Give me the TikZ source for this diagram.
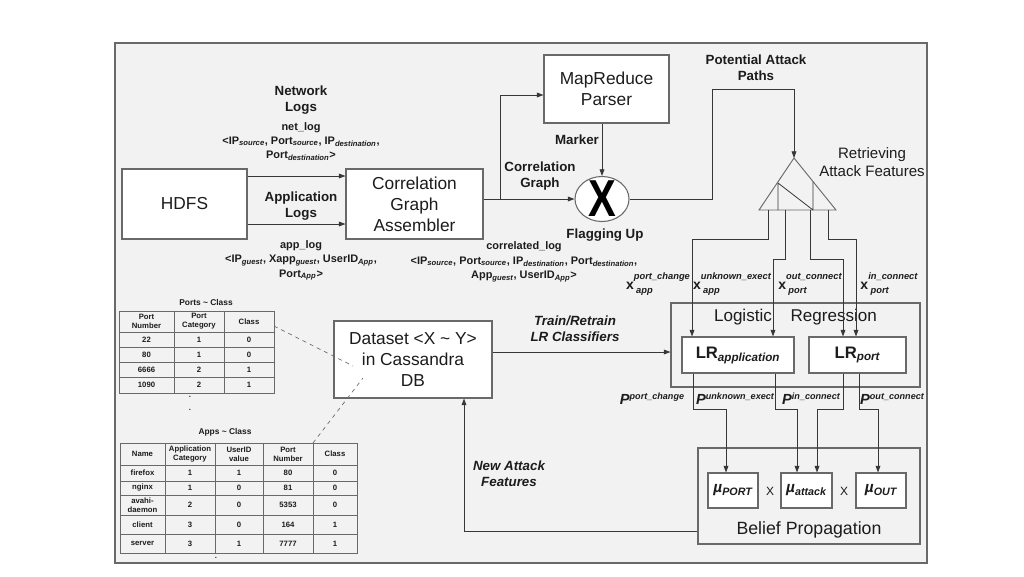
\documentclass[tikz,border=0pt]{standalone}
\usepackage{amsmath}
\usepackage{fontspec}
\setmainfont{Liberation Sans}
\usetikzlibrary{positioning,arrows.meta,shapes.geometric,calc}
\definecolor{framegray}{RGB}{242,242,242}
\definecolor{edge}{RGB}{105,105,105}
\definecolor{linecol}{RGB}{55,55,55}
\definecolor{ink}{RGB}{28,28,28}
\newdimen\pxu \pxu=0.75pt
\newcommand{\lsb}[1]{\textsubscript{\itshape #1}}
\newcommand{\xft}[2]{{\fontsize{10.5}{10.5}\selectfont\bfseries x}\raisebox{-3pt}{\fontsize{7}{8}\selectfont\bfseries\itshape\begin{tabular}[b]{@{}l@{}}#1\\[2.3pt]\hspace{0.25em}#2\end{tabular}}}
\newcommand{\pft}[1]{{\fontsize{11}{11}\selectfont\bfseries\itshape P}\raisebox{0.85ex}{\fontsize{6.8}{7}\selectfont\bfseries\itshape #1}}

\begin{document}
\begin{tikzpicture}[x=0.75pt, y=-0.75pt,
  box/.style={draw=edge, fill=white, line width=0.8pt, align=center, inner sep=0pt, text=ink, font=\fontsize{13}{15.7}\selectfont},
  grp/.style={draw=edge, line width=0.8pt, inner sep=0pt},
  lbl/.style={align=center, text=ink, font=\fontsize{10}{12}\selectfont\bfseries},
  fld/.style={align=center, text=ink, font=\fontsize{8.2}{10.8}\selectfont\bfseries},
  note/.style={align=center, text=ink, font=\fontsize{10}{12}\selectfont\bfseries\itshape},
  arr/.style={draw=linecol, line width=0.6pt, -{Triangle[length=5pt,width=3.6pt]}},
  wire/.style={draw=linecol, line width=0.6pt},
  cell/.style={inner sep=0pt, align=center, text=ink, font=\fontsize{5.8}{6.6}\selectfont\bfseries},
  grid/.style={draw=edge, line width=0.5pt},
  link/.style={draw=edge, dashed, line width=0.5pt}
]
  \useasboundingbox (0,0) rectangle (1024,576);
  \fill[white] (0,0) rectangle (1024,576);
  \filldraw[fill=framegray, draw=edge, line width=0.8pt] (115,43) rectangle (927,563);

  % main boxes
  \node[box, minimum width=125\pxu, minimum height=70\pxu] (hdfs) at (184.5,204) {HDFS};
  \node[box, minimum width=137\pxu, minimum height=70\pxu] (cga) at (414.5,204) {Correlation\\Graph\\Assembler};
  \node[box, minimum width=125\pxu, minimum height=68\pxu] (mrp) at (606.5,89) {MapReduce\\Parser};
  \node[draw=edge, fill=white, line width=0.8pt, ellipse, inner sep=0pt,
        minimum width=54\pxu, minimum height=45\pxu,
        label={[text=black, font=\fontsize{39}{39}\selectfont\bfseries]center:\scalebox{0.8}[1]{X}}] (flag) at (602,199) {};
  \node[box, minimum width=158\pxu, minimum height=77\pxu] (ds) at (413,359.5) {Dataset <X \textasciitilde{} Y>\\in Cassandra\\DB};

  % logistic regression
  \node[grp, minimum width=249\pxu, minimum height=84\pxu] (lr) at (795.5,345) {};
  \node[text=ink, font=\fontsize{12.8}{14}\selectfont] (lrt) at (795.5,317) {Logistic\hspace{1.1em}Regression};
  \node[box, font=\fontsize{12.5}{14}\selectfont\bfseries, minimum width=112\pxu, minimum height=36\pxu] (lra) at (738,355) {LR\textsubscript{\itshape application}};
  \node[box, font=\fontsize{12.5}{14}\selectfont\bfseries, minimum width=97\pxu, minimum height=36\pxu] (lrp) at (857.5,355) {LR\textsubscript{\itshape port}};

  % belief propagation
  \node[grp, minimum width=222\pxu, minimum height=96\pxu] (bp) at (809,496) {};
  \node[text=ink, font=\fontsize{13.3}{15}\selectfont] (bpt) at (809,530) {Belief Propagation};
  \node[box, font=\fontsize{11.5}{13}\selectfont, minimum width=50\pxu, minimum height=35\pxu] (mup) at (733,490.5) {\textbf{\textit{µ}}\textsubscript{\bfseries\itshape PORT}};
  \node[box, font=\fontsize{11.5}{13}\selectfont, minimum width=51\pxu, minimum height=35\pxu] (mua) at (806.5,490.5) {\textbf{\textit{µ}}\textsubscript{\bfseries\itshape attack}};
  \node[box, font=\fontsize{11.5}{13}\selectfont, minimum width=50\pxu, minimum height=35\pxu] (muo) at (881,490.5) {\textbf{\textit{µ}}\textsubscript{\bfseries\itshape OUT}};
  \node[text=ink, font=\fontsize{9}{10}\selectfont] (m1) at (770,491) {X};
  \node[text=ink, font=\fontsize{9}{10}\selectfont] (m2) at (844,491) {X};

  % retrieving triangle
  \coordinate (ta) at (794,158);
  \coordinate (tl) at (759,210);
  \coordinate (tr) at (836,210);
  \draw[grid, line width=0.7pt] (ta) -- (tl) -- (tr) -- cycle;
  \draw[wire] (778,183) -- (778,210) (778,183) -- (813,210) (813,182) -- (813,210);
  \node[text=ink, font=\fontsize{11.3}{13.5}\selectfont, align=center] (raf) at (872,162) {Retrieving\\Attack Features};

  % labels
  \node[lbl] (nl) at (301,100) {Network\\Logs};
  \node[fld] (nlf) at (301,141.5) {net\_log\\<IP\lsb{source}, Port\lsb{source}, IP\lsb{destination},\\Port\lsb{destination}>};
  \node[lbl] (al) at (301,206) {Application\\Logs};
  \node[fld] (alf) at (301,260.5) {app\_log\\<IP\lsb{guest}, Xapp\lsb{guest}, UserID\lsb{App},\\Port\lsb{App}>};
  \node[lbl] (cg) at (540,176) {Correlation\\Graph};
  \node[lbl] (mk) at (577,140) {Marker};
  \node[lbl] (fu) at (605,235) {Flagging Up};
  \node[fld] (clf) at (524,262) {correlated\_log\\<IP\lsb{source}, Port\lsb{source}, IP\lsb{destination}, Port\lsb{destination},\\App\lsb{guest}, UserID\lsb{App}>};
  \node[lbl] (pap) at (756,68) {Potential Attack\\Paths};
  \node[note] (trn) at (575,329) {Train/Retrain\\LR Classifiers};
  \node[note] (naf) at (509,474) {New Attack\\Features};

  \node[fld, inner sep=0pt] (x1) at (658,284) {\xft{port\_change}{app}};
  \node[fld, inner sep=0pt] (x2) at (732,284) {\xft{unknown\_exect}{app}};
  \node[fld, inner sep=0pt] (x3) at (810,284) {\xft{out\_connect}{port}};
  \node[fld, inner sep=0pt] (x4) at (889,284) {\xft{in\_connect}{port}};

  \node[fld, inner sep=0pt] (p1) at (652,399) {\pft{port\_change}};
  \node[fld, inner sep=0pt] (p2) at (735,399) {\pft{unknown\_exect}};
  \node[fld, inner sep=0pt] (p3) at (811,399) {\pft{in\_connect}};
  \node[fld, inner sep=0pt] (p4) at (892,399) {\pft{out\_connect}};

  % connectors
  \draw[arr] ([yshift=28\pxu]hdfs.east) -- ([yshift=28\pxu]cga.west);
  \draw[arr] ([yshift=-20\pxu]hdfs.east) -- ([yshift=-20\pxu]cga.west);
  \draw[arr] (cga.east |- flag.west) -- (flag.west);
  \coordinate (br) at (500,199);
  \draw[arr] (br) |- ([yshift=-6\pxu]mrp.west);
  \draw[arr] (mrp.south -| flag.north) -- (flag.north);
  \draw[arr] (flag.east) -| (712,89) -| (ta);

  \coordinate (b1) at (768,210);
  \coordinate (b2) at (785,210);
  \coordinate (b3) at (810,210);
  \coordinate (b4) at (828,210);
  \draw[arr] (b1) |- (692,239) -- (692,0 |- lra.north);
  \draw[arr] (b2) |- (773,259) -- (773,0 |- lra.north);
  \draw[arr] (b3) |- (843,259) -- (843,0 |- lrp.north);
  \draw[arr] (b4) |- (856,239) -- (856,0 |- lrp.north);

  \draw[arr] (ds.east |- 0,352) -- (lr.west |- 0,352);

  \draw[arr] (693,0 |- lra.south) |- (726,409) -- (726,0 |- mup.north);
  \draw[arr] (775,0 |- lra.south) |- (797,409) -- (797,0 |- mua.north);
  \draw[arr] (843,0 |- lrp.south) |- (817,409) -- (817,0 |- mua.north);
  \draw[arr] (859,0 |- lrp.south) |- (878,409) -- (878,0 |- muo.north);

  \draw[arr] (bp.west |- 0,531) -| (464,0 |- ds.south);

  % ports table
  \node[cell, font=\fontsize{6.3}{7}\selectfont\bfseries] (ptt) at (206,302) {Ports \textasciitilde{} Class};
  \draw[grid] (119,311) rectangle (274,393);
  \foreach \x in {174,224} \draw[grid] (\x,311) -- (\x,393);
  \foreach \y in {332,347,362,377} \draw[grid] (119,\y) -- (274,\y);
  \node[cell] (pt-0-1) at (146.5,321.5) {Port\\Number};
  \node[cell] (pt-0-2) at (199,321.5) {Port\\Category};
  \node[cell] (pt-0-3) at (249,321.5) {Class};
  \foreach \a/\b/\c [count=\r] in {22/1/0, 80/1/0, 6666/2/1, 1090/2/1} {
    \node[cell] (pt-\r-1) at (146.5,324.5+15*\r) {\a};
    \node[cell] (pt-\r-2) at (199,324.5+15*\r) {\b};
    \node[cell] (pt-\r-3) at (249,324.5+15*\r) {\c};
  }
  \node[cell] (pd1) at (190,397) {.};
  \node[cell] (pd2) at (190,410) {.};

  % apps table
  \node[cell, font=\fontsize{6.3}{7}\selectfont\bfseries] (apt) at (225,432) {Apps \textasciitilde{} Class};
  \draw[grid] (120,443) rectangle (357,553);
  \foreach \x in {165,215,263,313} \draw[grid] (\x,443) -- (\x,553);
  \foreach \y in {465,481,495,515,534} \draw[grid] (120,\y) -- (357,\y);
  \node[cell] (ap-0-1) at (142.5,454) {Name};
  \node[cell] (ap-0-2) at (190,454) {Application\\Category};
  \node[cell] (ap-0-3) at (239,454) {UserID\\value};
  \node[cell] (ap-0-4) at (288,454) {Port\\Number};
  \node[cell] (ap-0-5) at (335,454) {Class};
  \foreach \n/\a/\u/\p/\c/\y [count=\r] in {firefox/1/1/80/0/473, nginx/1/0/81/0/488, {avahi-\\daemon}/2/0/5353/0/505, client/3/0/164/1/524.5, server/3/1/7777/1/543.5} {
    \node[cell] (ap-\r-1) at (142.5,\y) {\n};
    \node[cell] (ap-\r-2) at (190,\y) {\a};
    \node[cell] (ap-\r-3) at (239,\y) {\u};
    \node[cell] (ap-\r-4) at (288,\y) {\p};
    \node[cell] (ap-\r-5) at (335,\y) {\c};
  }
  \node[cell] (ad1) at (216,558) {.};

  % dashed links to the dataset
  \coordinate (dl1) at (353,366);
  \coordinate (dl2) at (363,378);
  \draw[link] (274,326) -- (dl1);
  \draw[link] (313,443) -- (dl2);
\end{tikzpicture}
\end{document}
